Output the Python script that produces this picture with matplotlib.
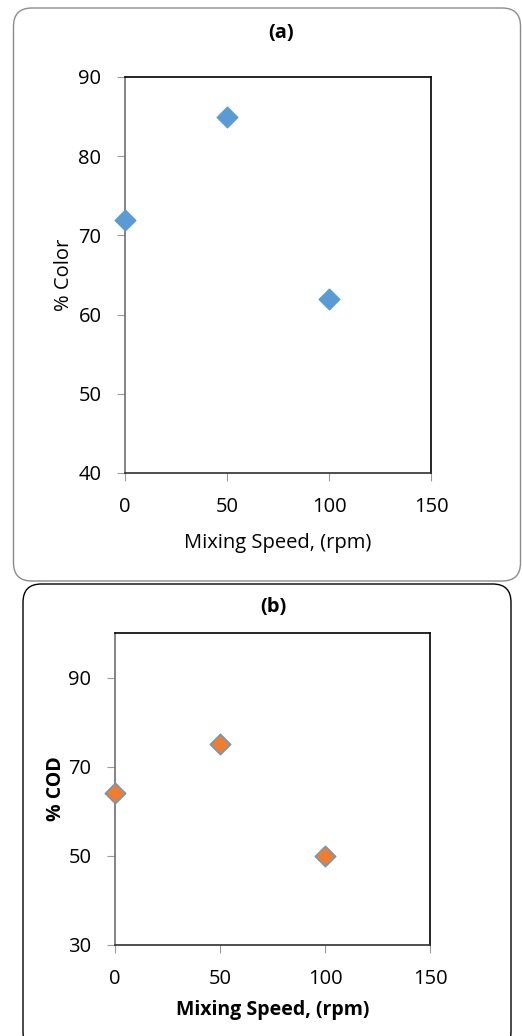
import matplotlib.pyplot as plt
from matplotlib.patches import FancyBboxPatch

plt.rcParams['font.family'] = ['Open Sans', 'DejaVu Sans']

speed = [0, 50, 100]
color_pct = [72, 85, 62]
cod_pct = [64, 75, 50]

W, H = 522, 1036
fig = plt.figure(figsize=(W / 100, H / 100), dpi=100)


def px_box(l, t, r, b):
    return [l / W, 1 - b / H, (r - l) / W, (b - t) / H]


# rounded frames
fig.patches.append(FancyBboxPatch((13.5 / W, 1 - 581 / H), (507 / W), (573 / H),
                                  boxstyle="round,pad=0,rounding_size=0.035",
                                  transform=fig.transFigure, fc='none', ec='#8c8c8c', lw=1.0,
                                  mutation_aspect=W / H))
fig.patches.append(FancyBboxPatch((23 / W, 1 - 1050 / H), (488 / W), (466 / H),
                                  boxstyle="round,pad=0,rounding_size=0.035",
                                  transform=fig.transFigure, fc='none', ec='black', lw=1.0,
                                  mutation_aspect=W / H))


def style(ax):
    for s in ['top', 'right']:
        ax.spines[s].set_color('black')
        ax.spines[s].set_linewidth(1.2)
    ax.spines['left'].set_color('#707070')
    ax.spines['left'].set_linewidth(1.2)
    ax.spines['bottom'].set_color('#303030')
    ax.spines['bottom'].set_linewidth(1.2)
    ax.tick_params(direction='out', length=6, width=0.8, color='#9a9a9a',
                   labelsize=14.5, pad=11)
    ax.set_xlim(0, 150)
    ax.set_xticks([0, 50, 100, 150])


# (a)
ax1 = fig.add_axes(px_box(125, 77, 431, 473))
ax1.scatter(speed, color_pct, marker='D', s=110, color='#5B9BD5', zorder=3, clip_on=False)
ax1.set_ylim(40, 90)
ax1.set_yticks([40, 50, 60, 70, 80, 90])
style(ax1)
ax1.set_xlabel('Mixing Speed, (rpm)', fontsize=14.5, va='center')
ax1.xaxis.set_label_coords(0.5, -0.177)
ax1.set_ylabel('% Color', fontsize=14.5, va='center')
ax1.yaxis.set_label_coords(-0.199, 0.5)
fig.text(281 / W, 1 - 33 / H, '(a)', ha='center', va='center', fontsize=14.5, fontweight='bold')

# (b)
ax2 = fig.add_axes(px_box(115, 633, 430, 945))
ax2.scatter(speed, cod_pct, marker='D', s=110, color='#ED7D31', edgecolors='#5B9BD5',
            linewidths=1.0, zorder=3, clip_on=False)
ax2.set_ylim(30, 100)
ax2.set_yticks([30, 50, 70, 90])
style(ax2)
ax2.set_xlabel('Mixing Speed, (rpm)', fontsize=14, fontweight='bold', va='center')
ax2.xaxis.set_label_coords(0.5, -0.208)
ax2.set_ylabel('% COD', fontsize=14, fontweight='bold', va='center')
ax2.yaxis.set_label_coords(-0.187, 0.5)
fig.text(273 / W, 1 - 607 / H, '(b)', ha='center', va='center', fontsize=14.5, fontweight='bold')

fig.savefig('out.png', dpi=100)
